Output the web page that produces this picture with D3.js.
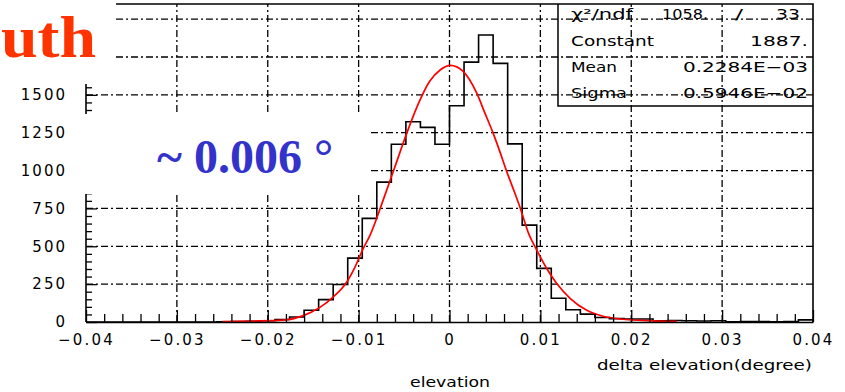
<!DOCTYPE html>
<html>
<head>
<meta charset="utf-8">
<script src="https://cdn.jsdelivr.net/npm/d3@7"></script>
<style>
  body { margin: 0; background: #fff; }
  svg { display: block; }
</style>
</head>
<body>
<div id="chart"></div>
<script>
// histogram of delta elevation, 50 bins from -0.04 to 0.04
const histRange = [-0.04, 0.04];
const histCounts = [
  0, 0, 0, 0, 0, 0, 0, 0, 0, 2,
  3, 4, 8, 17, 33, 78, 148, 248, 422, 684,
  924, 1174, 1322, 1285, 1174, 1428, 1716, 1895, 1708, 1176,
  640, 354, 157, 81, 52, 30, 22, 20, 20, 8,
  10, 8, 7, 8, 2, 3, 3, 2, 3, 14
];

// gaussian fit curve
const fitX = [-0.025, -0.0215, -0.0183, -0.0161, -0.0143, -0.0128, -0.0115, -0.0104, -0.0095, -0.00875,
  -0.0073, -0.006, -0.0047, -0.0034, -0.0022, -0.001, 0.0001, 0.0015, 0.003, 0.0039,
  0.0048, 0.0056, 0.0063, 0.0072, 0.0078, 0.0087, 0.0096, 0.0107, 0.0118, 0.0133,
  0.0151, 0.0169, 0.0188, 0.0224, 0.025];
const fitY = [3, 6, 12, 42, 95, 165, 247, 363, 485, 572,
  805, 1026, 1247, 1445, 1588, 1666, 1695, 1655, 1511, 1379,
  1247, 1115, 993, 850, 750, 585, 475, 353, 254, 155,
  77, 38, 20, 8, 4];

const xTicks = [-0.04, -0.03, -0.02, -0.01, 0, 0.01, 0.02, 0.03, 0.04];
const xTickLabels = ["\u22120.04", "\u22120.03", "\u22120.02", "\u22120.01", "0", "0.01", "0.02", "0.03", "0.04"];
const yGrid = [250, 500, 750, 1000, 1250, 1500, 1750, 2000];
// 1750 and 2000 sit under the slide title, only these labels show
const yTicks = [0, 250, 500, 750, 1000, 1250, 1500];
const yTickLabels = ["0", "250", "500", "750", "1000", "1250", "1500"];

const statNames = ["\u03c7\u00b2/ndf", "Constant", "Mean", "Sigma"];
const statValues = ["1887.", "0.2284E\u221203", "0.5946E\u221202"];
const chi2 = ["1058.", "/", "33"];

const width = 845, height = 392;
const margin = {top: 4, right: 32, bottom: 70, left: 86};
const sans = "DejaVu Sans, sans-serif";
const serif = "Liberation Serif, Times New Roman, serif";

const svg = d3.select("#chart").append("svg")
  .attr("width", width)
  .attr("height", height)
  .style("font-family", sans);

const x = d3.scaleLinear().domain(histRange).range([margin.left, width - margin.right]);
const y = d3.scaleLinear().domain([0, 2100]).range([height - margin.bottom, margin.top]);

const dash = "7,3,2,3";

// grid
svg.append("g").selectAll("line")
  .data(xTicks.slice(1, -1))
  .join("line")
    .attr("x1", d => x(d)).attr("x2", d => x(d))
    .attr("y1", y.range()[0]).attr("y2", y.range()[1])
    .attr("stroke", "#000").attr("stroke-width", 1.3)
    .attr("stroke-dasharray", dash);
svg.append("g").selectAll("line")
  .data(yGrid)
  .join("line")
    .attr("x1", x.range()[0]).attr("x2", x.range()[1])
    .attr("y1", d => y(d)).attr("y2", d => y(d))
    .attr("stroke", "#000").attr("stroke-width", 1.3)
    .attr("stroke-dasharray", dash);

// stats box
const stats = svg.append("g");
stats.append("path")
  .attr("d", "M558,4V106H813")
  .attr("fill", "none").attr("stroke", "#000").attr("stroke-width", 1.5);
const rowY = [19, 46, 72, 98];
const nameW = [62, 83, 46, 56];
stats.selectAll("text.name")
  .data(statNames)
  .join("text")
    .attr("class", "name")
    .attr("x", 571)
    .attr("y", (d, i) => rowY[i])
    .attr("font-size", 14)
    .attr("textLength", (d, i) => nameW[i])
    .attr("lengthAdjust", "spacingAndGlyphs")
    .text(d => d);
const valW = [58, 125, 125];
stats.selectAll("text.val")
  .data(statValues)
  .join("text")
    .attr("class", "val")
    .attr("x", (d, i) => 808 - valW[i])
    .attr("y", (d, i) => rowY[i + 1])
    .attr("font-size", 14)
    .attr("textLength", (d, i) => valW[i])
    .attr("lengthAdjust", "spacingAndGlyphs")
    .text(d => d);
const chiX = [662, 735, 776], chiW = [46, 8, 24];
stats.selectAll("text.chi")
  .data(chi2)
  .join("text")
    .attr("class", "chi")
    .attr("x", (d, i) => chiX[i])
    .attr("y", rowY[0])
    .attr("font-size", 14)
    .attr("textLength", (d, i) => chiW[i])
    .attr("lengthAdjust", "spacingAndGlyphs")
    .text(d => d);

// histogram outline
const bw = (histRange[1] - histRange[0]) / histCounts.length;
const steps = [[histRange[0], 0]];
histCounts.forEach((c, i) => {
  const lo = histRange[0] + i * bw;
  steps.push([lo, c], [lo + bw, c]);
});
steps.push([histRange[1], 0]);
svg.append("path")
  .datum(steps)
  .attr("fill", "none")
  .attr("stroke", "#000")
  .attr("stroke-width", 1.6)
  .attr("d", d3.line().x(d => x(d[0])).y(d => y(d[1])));

// fit
svg.append("path")
  .datum(fitX.map((v, i) => [v, fitY[i]]))
  .attr("fill", "none")
  .attr("stroke", "#ff0000")
  .attr("stroke-width", 1.7)
  .attr("d", d3.line().curve(d3.curveMonotoneX).x(d => x(d[0])).y(d => y(d[1])));

// axes, ticks inside
const xMinor = d3.range(-0.04, 0.0401, 0.002).filter(v => Math.abs(Math.round(v * 500) % 5) !== 0);
const yMinor = d3.range(50, 2100, 50).filter(v => v % 250 !== 0);

svg.append("g")
  .attr("transform", `translate(0,${y(0)})`)
  .call(d3.axisBottom(x).tickValues(xMinor).tickSize(-8).tickSizeOuter(0).tickFormat(""))
  .call(g => g.select(".domain").remove());
const xAxis = svg.append("g")
  .attr("transform", `translate(0,${y(0)})`)
  .call(d3.axisBottom(x).tickValues(xTicks).tickSize(-12).tickSizeOuter(0).tickPadding(12)
    .tickFormat((d, i) => xTickLabels[i]));
xAxis.selectAll("text").attr("font-size", 15).attr("letter-spacing", 2.2)
  .style("font-family", sans).attr("fill", "#000");

svg.append("g")
  .attr("transform", `translate(${x(-0.04)},0)`)
  .call(d3.axisLeft(y).tickValues(yMinor).tickSize(-6).tickSizeOuter(0).tickFormat(""))
  .call(g => g.select(".domain").remove());
const yAxis = svg.append("g")
  .attr("transform", `translate(${x(-0.04)},0)`)
  .call(d3.axisLeft(y).tickValues(yTicks).tickSize(-11).tickSizeOuter(0).tickPadding(19)
    .tickFormat((d, i) => yTickLabels[i]));
yAxis.select(".domain").attr("d", `M0,${y(0)}V${y.range()[1]}`);
yAxis.selectAll("text").attr("font-size", 15).attr("letter-spacing", 2)
  .style("font-family", sans).attr("fill", "#000");

svg.selectAll(".tick line").attr("stroke-width", 1.3);
svg.selectAll(".domain").attr("stroke-width", 1.6);

// frame top / right
svg.append("path")
  .attr("d", `M${x.range()[0]},${y.range()[1]}H${x.range()[1]}V${y.range()[0]}`)
  .attr("fill", "none").attr("stroke", "#000").attr("stroke-width", 1.6);

// axis titles
svg.append("text")
  .attr("x", 597).attr("y", 370)
  .attr("font-size", 14)
  .attr("textLength", 215).attr("lengthAdjust", "spacingAndGlyphs")
  .text("delta elevation(degree)");
svg.append("text")
  .attr("x", 410).attr("y", 387)
  .attr("font-size", 14)
  .attr("textLength", 80).attr("lengthAdjust", "spacingAndGlyphs")
  .text("elevation");

// slide overlays
svg.append("rect").attr("x", 0).attr("y", 0).attr("width", 116).attr("height", 84).attr("fill", "#fff");
svg.append("rect").attr("x", 72).attr("y", 114).attr("width", 297).attr("height", 80).attr("fill", "#fff");

svg.append("text")
  .attr("x", 1).attr("y", 57)
  .style("font-family", serif)
  .attr("font-weight", "bold")
  .attr("font-size", 60)
  .attr("textLength", 95).attr("lengthAdjust", "spacingAndGlyphs")
  .attr("fill", "#ff3300")
  .text("uth");
svg.append("text")
  .attr("x", 157).attr("y", 173)
  .style("font-family", serif)
  .attr("font-weight", "bold")
  .attr("font-size", 48)
  .attr("fill", "#3333cc")
  .text("~ 0.006 \u00b0");
</script>
</body>
</html>
